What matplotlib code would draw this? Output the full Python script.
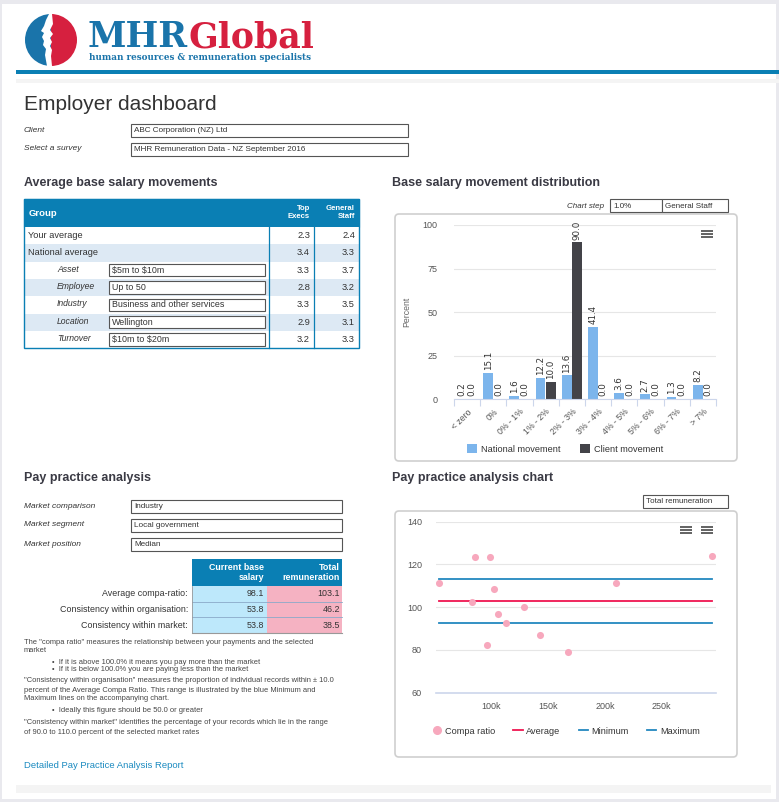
import numpy as np
import matplotlib
matplotlib.use('Agg')
import matplotlib.pyplot as plt
from matplotlib.patches import Rectangle, FancyBboxPatch, Wedge, Polygon
from matplotlib.lines import Line2D

plt.rcParams['font.family'] = ['Liberation Sans', 'DejaVu Sans']

W, H = 779, 802

# --- data ---
client_name = 'ABC Corporation (NZ) Ltd'
survey_name = 'MHR Remuneration Data - NZ September 2016'

salary_groups = ['Your average', 'National average', 'Asset', 'Employee', 'Industry', 'Location', 'Turnover']
salary_filters = ['', '', '$5m to $10m', 'Up to 50', 'Business and other services', 'Wellington', '$10m to $20m']
top_execs = [2.3, 3.4, 3.3, 2.8, 3.3, 2.9, 3.2]
general_staff = [2.4, 3.3, 3.7, 3.2, 3.5, 3.1, 3.3]

dist_bins = ['< zero', '0%', '0% - 1%', '1% - 2%', '2% - 3%', '3% - 4%',
             '4% - 5%', '5% - 6%', '6% - 7%', '> 7%']
national_move = [0.2, 15.1, 1.6, 12.2, 13.6, 41.4, 3.6, 2.7, 1.3, 8.2]
client_move = [0.0, 0.0, 0.0, 10.0, 90.0, 0.0, 0.0, 0.0, 0.0, 0.0]

market_labels = ['Market comparison', 'Market segment', 'Market position']
market_values = ['Industry', 'Local government', 'Median']

pp_rows = ['Average compa-ratio:', 'Consistency within organisation:', 'Consistency within market:']
base_salary = [98.1, 53.8, 53.8]
total_rem = [103.1, 46.2, 38.5]

salary_k = [53.3, 85.0, 98.8, 82.6, 101.8, 105.3, 112.9, 95.6, 128.5, 142.6, 167.5, 210.0, 294.9]
compa_ratio = [111.4, 123.6, 123.6, 102.6, 108.4, 97.0, 92.8, 82.1, 100.0, 86.9, 79.0, 111.4, 123.8]
compa_avg = 103.1
compa_min = 92.8
compa_max = 113.4

BLUE = '#0a7fb4'
TXT = '#333333'

fig = plt.figure(figsize=(W / 100, H / 100), dpi=100)
bg = fig.add_axes([0, 0, 1, 1])
bg.set_xlim(0, W)
bg.set_ylim(H, 0)
bg.axis('off')


def txt(x, y, s, size=6, **kw):
    kw.setdefault('color', TXT)
    kw.setdefault('va', 'center')
    return bg.text(x, y, s, fontsize=size, parse_math=False, **kw)


def box(x0, y0, x1, y1, fc='white', ec='#555555', lw=0.8, z=1):
    bg.add_patch(Rectangle((x0, y0), x1 - x0, y1 - y0, fc=fc, ec=ec, lw=lw, zorder=z))


def burger(x, y):
    for dy in (-3, 0, 3):
        bg.add_patch(Rectangle((x - 6, y + dy - 1), 12, 2, fc='#666666', ec='none', zorder=5))


# page frame
bg.add_patch(Rectangle((0, 0), W, H, fc='#e9e9ee', ec='none', zorder=0))
bg.add_patch(Rectangle((2, 4), W - 5, H - 7, fc='white', ec='none', zorder=0))
box(16, 70, W, 74, fc='#0a7fb4', ec='none', lw=0)
box(16, 79, W, 83, fc='#f4f4f4', ec='none', lw=0)
box(16, 785, 771, 793, fc='#f4f4f4', ec='none', lw=0)

# logo
bg.add_patch(Wedge((51, 40), 26, 90, 270, fc='#1a74aa', ec='none', zorder=2))
bg.add_patch(Wedge((51, 40), 26, -90, 90, fc='#d6203f', ec='none', zorder=2))
prof = [(49, 14), (46, 20), (44, 26), (41, 31), (44, 33), (42, 37), (44, 41), (43, 45),
        (46, 49), (45, 55), (47, 66), (52, 66), (51, 56), (52, 50), (50, 46), (52, 42),
        (50, 38), (53, 34), (50, 30), (53, 24), (52, 14)]
bg.add_patch(Polygon(prof, closed=True, fc='white', ec='none', zorder=3))
mhr = bg.text(88, 47, 'MHR', fontsize=25, fontweight='bold', color='#1a74aa',
              family='DejaVu Serif', va='baseline', ha='left')
fig.canvas.draw()
ext = mhr.get_window_extent()
mhr_end = ext.x1 / fig.dpi * 100
bg.text(mhr_end, 47, 'Global', fontsize=25, fontweight='bold', color='#d6203f',
        family='DejaVu Serif', va='baseline', ha='left')
bg.text(89, 58, 'human resources & remuneration specialists', fontsize=6.3, fontweight='bold',
        color='#1a74aa', family='DejaVu Serif', va='center', ha='left')

# title and selectors
txt(24, 105, 'Employer dashboard', 15, color='#333333')
txt(24, 130, 'Client', 6.0, style='italic')
txt(24, 149, 'Select a survey', 6.0, style='italic')
box(131, 124, 408, 137)
box(131, 143, 408, 156)
txt(134, 130.5, client_name, 5.9)
txt(134, 149.5, survey_name, 5.9)

# section headings
for hx, hy, hs in [(24, 183, 'Average base salary movements'),
                   (392, 183, 'Base salary movement distribution'),
                   (24, 478, 'Pay practice analysis'),
                   (392, 478, 'Pay practice analysis chart')]:
    txt(hx, hy, hs, 9.0, fontweight='bold', color='#3a3a44')

# average base salary table
t_x0, t_x1, c1, c2 = 24, 359, 269, 314
hdr_y0, hdr_y1 = 199, 227
row_h = 17.3
box(t_x0, hdr_y0, t_x1, hdr_y1, fc=BLUE, ec=BLUE)
txt(29, 213, 'Group', 6.8, color='white', fontweight='bold')
txt(310, 213, 'Top\nExecs', 5.6, color='white', fontweight='bold', ha='right', linespacing=1.2)
txt(355, 213, 'General\nStaff', 5.6, color='white', fontweight='bold', ha='right', linespacing=1.2)
for i, g in enumerate(salary_groups):
    y0 = hdr_y1 + i * row_h
    fc = '#dde9f4' if i % 2 == 1 else 'white'
    box(t_x0, y0, t_x1, y0 + row_h, fc=fc, ec='none', lw=0)
    yc = y0 + row_h / 2
    if salary_filters[i]:
        txt(57, yc - 1, g, 6.2, style='italic')
        box(109, y0 + 2.5, 265, y0 + row_h - 2.5)
        txt(112, yc, salary_filters[i], 6.4)
    else:
        txt(28, yc, g, 6.7)
    txt(310, yc, f'{top_execs[i]:.1f}', 6.7, ha='right')
    txt(355, yc, f'{general_staff[i]:.1f}', 6.7, ha='right')
t_y1 = hdr_y1 + len(salary_groups) * row_h
bg.plot([c1, c1], [hdr_y1, t_y1], color=BLUE, lw=0.9)
bg.plot([c2, c2], [hdr_y1, t_y1], color=BLUE, lw=0.9)
box(t_x0, hdr_y0, t_x1, t_y1, fc='none', ec=BLUE, lw=1.0, z=3)

# bar chart card
bg.add_patch(FancyBboxPatch((395, 214), 342, 247, boxstyle='round,pad=0,rounding_size=4',
                            fc='white', ec='#cfcfcf', lw=1.2, zorder=1))
txt(604, 206, 'Chart step', 5.8, style='italic', ha='right')
box(610, 199, 662, 212)
box(662, 199, 728, 212)
txt(613, 206, '1.0%', 5.8)
txt(665, 206, 'General Staff', 5.8)
burger(707, 234)

ax1 = fig.add_axes([454 / W, 1 - 399 / H, (716 - 454) / W, (399 - 225) / H])
xi = np.arange(len(dist_bins))
bw = 0.37
b1 = ax1.bar(xi - 0.2, national_move, bw, color='#7cb5ec', zorder=2)
b2 = ax1.bar(xi + 0.2, client_move, bw, color='#434348', zorder=2)
for bars, vals in ((b1, national_move), (b2, client_move)):
    for r, v in zip(bars, vals):
        ax1.annotate(f'{v:.1f}', (r.get_x() + r.get_width() / 2, v), xytext=(0, 2),
                     textcoords='offset points', rotation=90, ha='center', va='bottom',
                     fontsize=6.3, color='#333333', family='DejaVu Sans')
ax1.set_xlim(-0.5, len(dist_bins) - 0.5)
ax1.set_ylim(0, 100)
ax1.set_yticks([0, 25, 50, 75, 100])
ax1.yaxis.grid(True, color='#e6e6e6', lw=0.8)
ax1.set_axisbelow(True)
for s in ('top', 'right', 'left'):
    ax1.spines[s].set_visible(False)
ax1.spines['bottom'].set_color('#ccd6eb')
ax1.tick_params(axis='y', length=0, labelsize=6.5, labelcolor='#555555', pad=12)
ax1.set_xticks(np.arange(len(dist_bins) + 1) - 0.5, minor=False)
ax1.set_xticklabels([])
ax1.tick_params(axis='x', which='major', length=5, color='#ccd6eb', direction='out')
ax1.set_xticks(xi, minor=True)
ax1.set_xticklabels(dist_bins, minor=True, rotation=45, ha='right', rotation_mode='anchor',
                    fontsize=6.3, color='#555555')
ax1.tick_params(axis='x', which='minor', length=0, pad=6)
ax1.set_ylabel('Percent', fontsize=6.3, color='#666666', labelpad=8)
ax1.set_facecolor('none')
leg_h = [Rectangle((0, 0), 1, 1, fc='#7cb5ec'), Rectangle((0, 0), 1, 1, fc='#434348')]
ax1.legend(leg_h, ['National movement', 'Client movement'], ncol=2, frameon=False,
           loc='center', bbox_to_anchor=(565 / W, 1 - 449 / H), bbox_transform=fig.transFigure,
           fontsize=6.6, handlelength=1.1, handleheight=1.1, handletextpad=0.4, columnspacing=2.2,
           labelcolor='#333333')

# pay practice selectors
for i, (lab, val) in enumerate(zip(market_labels, market_values)):
    y = 506 + i * 19
    txt(24, y, lab, 6.0, style='italic')
    box(131, y - 6, 342, y + 7)
    txt(134, y + 0.5, val, 5.9)

# pay practice table
p_x0, p_mid, p_x1 = 192, 267, 342
box(p_x0, 559, p_x1, 586, fc=BLUE, ec='none', lw=0)
txt(264, 572.5, 'Current base\nsalary', 6.4, color='white', fontweight='bold', ha='right',
    linespacing=1.15)
txt(340, 572.5, 'Total\nremuneration', 6.4, color='white', fontweight='bold', ha='right',
    linespacing=1.15)
for i, lab in enumerate(pp_rows):
    y0 = 586 + i * 15.7
    yc = y0 + 7.8
    box(p_x0, y0, p_mid, y0 + 15.7, fc='#bde8fb', ec='none', lw=0)
    box(p_mid, y0, p_x1, y0 + 15.7, fc='#f5b2c2', ec='none', lw=0)
    if i > 0:
        bg.plot([p_x0, p_x1], [y0, y0], color='#8aa9c8', lw=0.6)
    txt(188, yc, lab, 6.4, ha='right')
    txt(264, yc, f'{base_salary[i]:.1f}', 6.4, ha='right')
    txt(340, yc, f'{total_rem[i]:.1f}', 6.4, ha='right')
bg.plot([p_x0, p_x1], [633, 633], color='#999999', lw=0.8)
bg.plot([p_x0, p_x0], [586, 633], color='#999999', lw=0.6)

# explanatory notes
notes = [
    (24, 642, 'The "compa ratio" measures the relationship between your payments and the selected'),
    (24, 650, 'market'),
    (52, 662, '\u2022  If it is above 100.0% it means you pay more than the market'),
    (52, 669.5, '\u2022  If it is below 100.0% you are paying less than the market'),
    (24, 681, '"Consistency within organisation" measures the proportion of individual records within \u00b1 10.0'),
    (24, 690, 'percent of the Average Compa Ratio. This range is illustrated by the blue Minimum and'),
    (24, 698, 'Maximum lines on the accompanying chart.'),
    (52, 711, '\u2022  Ideally this figure should be 50.0 or greater'),
    (24, 723, '"Consistency within market" identifies the percentage of your records which lie in the range'),
    (24, 732, 'of 90.0 to 110.0 percent of the selected market rates'),
]
for nx, ny, ns in notes:
    txt(nx, ny, ns, 5.45, color='#444444')
txt(24, 765, 'Detailed Pay Practice Analysis Report', 6.8, color='#1a8ac0')

# scatter chart card
bg.add_patch(FancyBboxPatch((395, 511), 342, 246, boxstyle='round,pad=0,rounding_size=4',
                            fc='white', ec='#cfcfcf', lw=1.2, zorder=1))
box(643, 495, 728, 508)
txt(646, 501.5, 'Total remuneration', 5.8)
burger(686, 530)
burger(707, 530)

ax2 = fig.add_axes([436 / W, 1 - 692.7 / H, (716 - 436) / W, (692.7 - 521.7) / H])
ax2.scatter(salary_k, compa_ratio, s=26, color='#f7a8bd', zorder=4, lw=0)
xl = [min(salary_k), max(salary_k)]
ax2.plot(xl, [compa_avg] * 2, color='#ef1650', lw=1.3, zorder=3)
ax2.plot(xl, [compa_min] * 2, color='#2388bf', lw=1.3, zorder=3)
ax2.plot(xl, [compa_max] * 2, color='#2388bf', lw=1.3, zorder=3)
ax2.set_xlim(51, 298)
ax2.set_ylim(60, 140)
ax2.set_yticks([60, 80, 100, 120, 140])
ax2.set_xticks([100, 150, 200, 250])
ax2.set_xticklabels(['100k', '150k', '200k', '250k'])
ax2.yaxis.grid(True, color='#e6e6e6', lw=0.8)
ax2.set_axisbelow(True)
for s in ('top', 'right', 'left'):
    ax2.spines[s].set_visible(False)
ax2.spines['bottom'].set_color('#ccd6eb')
ax2.spines['bottom'].set_linewidth(1.2)
ax2.tick_params(axis='y', length=0, labelsize=6.5, labelcolor='#555555', pad=10)
ax2.tick_params(axis='x', length=0, labelsize=6.5, labelcolor='#555555', pad=7)
ax2.set_facecolor('none')
leg2 = [Line2D([], [], marker='o', ls='none', color='#f7a8bd', markersize=5.5),
        Line2D([], [], color='#ef1650', lw=1.3),
        Line2D([], [], color='#2388bf', lw=1.3),
        Line2D([], [], color='#2388bf', lw=1.3)]
ax2.legend(leg2, ['Compa ratio', 'Average', 'Minimum', 'Maximum'], ncol=4, frameon=False,
           loc='center', bbox_to_anchor=(566 / W, 1 - 731 / H), bbox_transform=fig.transFigure,
           fontsize=6.6, handlelength=1.0, handletextpad=0.4, columnspacing=2.0,
           labelcolor='#333333')

fig.savefig('out.png', dpi=100)
